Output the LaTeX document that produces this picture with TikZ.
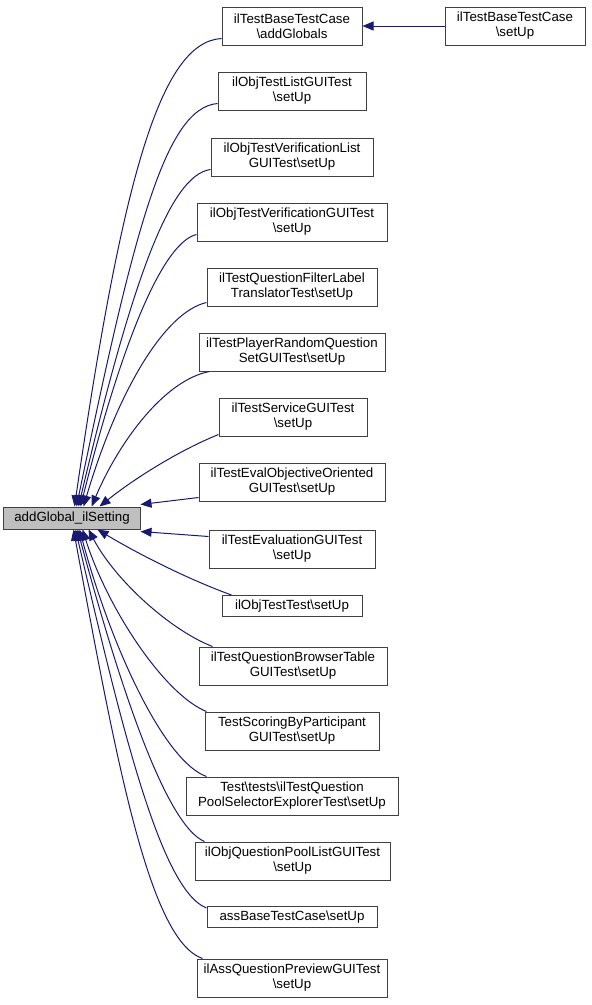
\documentclass[tikz,border=0pt]{standalone}
\usepackage{fontspec}
\setmainfont{Liberation Sans}
\usetikzlibrary{arrows.meta,calc}
\definecolor{edgeblue}{HTML}{191970}
\definecolor{mainfill}{HTML}{BFBFBF}
\definecolor{boxline}{HTML}{404040}
\begin{document}
\begin{tikzpicture}[x=1bp,y=-1bp,
  box/.style={draw=boxline, line width=1bp, fill=white, align=center, inner sep=0pt,
    minimum height=38bp, font=\fontsize{13.3bp}{15bp}\selectfont},
  onebox/.style={box, minimum height=21bp},
  mainbox/.style={box, minimum height=22bp, fill=mainfill},
  edge/.style={draw=edgeblue, line width=1bp, -{Triangle[length=11bp,width=9bp]}}]
\useasboundingbox (0,0) rectangle (592,1005);

\node[mainbox, minimum width=136bp] (main) at (72,518) {addGlobal\_ilSetting};

\node[box, minimum width=140bp] (n1) at (292,26) {ilTestBaseTestCase\\\textbackslash addGlobals};
\node[box, minimum width=140bp] (n2) at (515,26) {ilTestBaseTestCase\\\textbackslash setUp};
\node[box, minimum width=148bp] (n3) at (292,91) {ilObjTestListGUITest\\\textbackslash setUp};
\node[box, minimum width=162bp] (n4) at (292,157) {ilObjTestVerificationList\\GUITest\textbackslash setUp};
\node[box, minimum width=190bp] (n5) at (292,222) {ilObjTestVerificationGUITest\\\textbackslash setUp};
\node[box, minimum width=170bp] (n6) at (292,287) {ilTestQuestionFilterLabel\\TranslatorTest\textbackslash setUp};
\node[box, minimum width=186bp] (n7) at (292,352) {ilTestPlayerRandomQuestion\\SetGUITest\textbackslash setUp};
\node[box, minimum width=148bp] (n8) at (293,417) {ilTestServiceGUITest\\\textbackslash setUp};
\node[box, minimum width=186bp] (n9) at (292,482) {ilTestEvalObjectiveOriented\\GUITest\textbackslash setUp};
\node[box, minimum width=166bp] (n10) at (292,549) {ilTestEvaluationGUITest\\\textbackslash setUp};
\node[onebox, minimum width=140bp] (n11) at (292,606) {ilObjTestTest\textbackslash setUp};
\node[box, minimum width=188bp] (n12) at (293,666) {ilTestQuestionBrowserTable\\GUITest\textbackslash setUp};
\node[box, minimum width=174bp] (n13) at (292,731) {TestScoringByParticipant\\GUITest\textbackslash setUp};
\node[box, minimum width=212bp] (n14) at (292,796) {Test\textbackslash tests\textbackslash ilTestQuestion\\PoolSelectorExplorerTest\textbackslash setUp};
\node[box, minimum width=195bp] (n15) at (292.5,861) {ilObjQuestionPoolListGUITest\\\textbackslash setUp};
\node[onebox, minimum width=170bp] (n16) at (292,917) {assBaseTestCase\textbackslash setUp};
\node[box, minimum width=190bp] (n17) at (292,978) {ilAssQuestionPreviewGUITest\\\textbackslash setUp};

% edge from setUp to addGlobals
\draw[edge] (n2.west) -- (n1.east);

% upper group
\draw[edge] ($(n1.south west)+(0,-7)$) .. controls (160,42) and (122,180) .. ($(main.north west)+(71,0)$);
\draw[edge] ($(n3.south west)+(0,-7)$) .. controls (165,108) and (134,230) .. ($(main.north west)+(73,0)$);
\draw[edge] ($(n4.south west)+(0,-7)$) .. controls (170,175) and (132,280) .. ($(main.north west)+(75,0)$);
\draw[edge] ($(n5.south west)+(0,-7)$) .. controls (165,242) and (125,330) .. ($(main.north west)+(77,0)$);
\draw[edge] ($(n6.south west)+(0,-4)$) .. controls (165,312) and (118,390) .. ($(main.north west)+(80,0)$);
\draw[edge] ($(n7.south west)+(11,0)$) .. controls (165,380) and (120,440) .. ($(main.north west)+(88,0)$);
\draw[edge] ($(n8.south west)+(0,-2)$) .. controls (180,450) and (135,478) .. ($(main.north west)+(96,0)$);
\draw[edge] ($(n9.south west)+(0,-4)$) -- ($(main.north east)+(0,-2)$);

% lower group
\draw[edge] ($(n10.north west)+(0,7)$) -- ($(main.south east)+(0,2)$);
\draw[edge] ($(n11.north west)+(10,0)$) .. controls (190,580) and (140,555) .. ($(main.south west)+(94,0)$);
\draw[edge] ($(n12.north west)+(14,0)$) .. controls (170,630) and (115,580) .. ($(main.south west)+(85,0)$);
\draw[edge] ($(n13.north west)+(2,0)$) .. controls (165,695) and (108,610) .. ($(main.south west)+(79,0)$);
\draw[edge] ($(n14.north west)+(21,0)$) .. controls (165,762) and (112,650) .. ($(main.south west)+(76,0)$);
\draw[edge] ($(n15.north west)+(10,0)$) .. controls (165,825) and (118,680) .. ($(main.south west)+(74,0)$);
\draw[edge] ($(n16.north west)+(0,2)$) .. controls (160,890) and (120,720) .. ($(main.south west)+(72,0)$);
\draw[edge] ($(n17.north west)+(6,0)$) .. controls (150,940) and (118,770) .. ($(main.south west)+(70,0)$);
\end{tikzpicture}
\end{document}
